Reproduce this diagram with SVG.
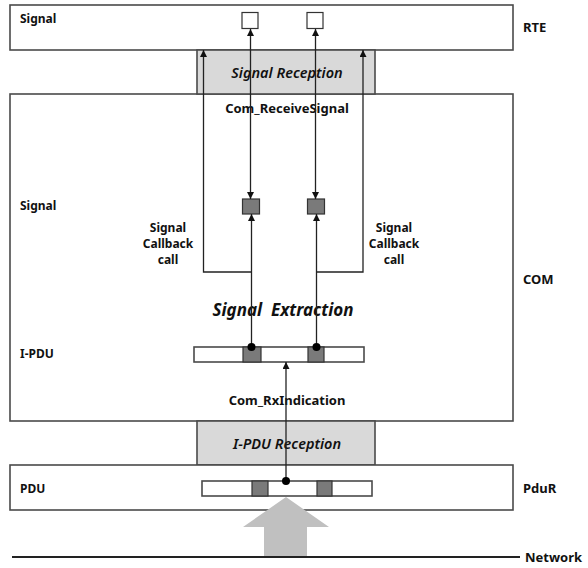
<svg xmlns="http://www.w3.org/2000/svg" width="588" height="568" viewBox="0 0 588 568">
<style>
.box{fill:#fff;stroke:#4a4a4a;stroke-width:1.6}
.gbox{fill:#d9d9d9;stroke:#4a4a4a;stroke-width:1.6}
.dark{fill:#7a7a7a;stroke:#333;stroke-width:1.2}
.wsq{fill:#fff;stroke:#333;stroke-width:1.2}
.ln{fill:none;stroke:#222;stroke-width:1.3}
.t{font-family:"Noto Sans","Open Sans","Liberation Sans",sans-serif;font-weight:bold;font-size:12px;fill:#111}
.lbl{font-family:"Noto Sans","Open Sans","Liberation Sans",sans-serif;font-weight:bold;font-size:13px;fill:#111}
.it{font-family:"Noto Sans","Open Sans","Liberation Sans",sans-serif;font-style:italic;font-weight:600;font-size:14.5px;fill:#111}
</style>
<defs>
<marker id="ah" viewBox="0 0 8 8" refX="8" refY="4" markerWidth="7" markerHeight="7" markerUnits="userSpaceOnUse" orient="auto-start-reverse">
<path d="M0,0 L8,4 L0,8 z" fill="#111"/>
</marker>
</defs>

<g id="rte">
<rect class="box" x="10" y="5" width="503" height="45"/>
<text class="t" x="20" y="23">Signal</text>
<rect class="wsq" x="242" y="12.5" width="16" height="16"/>
<rect class="wsq" x="307" y="12.5" width="16" height="16"/>
</g>
<text class="lbl" x="523" y="32">RTE</text>

<g id="com">
<rect class="box" x="10" y="94" width="503" height="327"/>
<text class="t" x="20" y="210">Signal</text>
<text class="t" x="20" y="358">I-PDU</text>
<rect class="dark" x="242.5" y="199" width="17" height="15"/>
<rect class="dark" x="307.5" y="199" width="17" height="15"/>
<text class="lbl" x="287" y="113" text-anchor="middle">Com_ReceiveSignal</text>
<text class="t" text-anchor="middle"><tspan x="168" y="232">Signal</tspan><tspan x="168" y="248">Callback</tspan><tspan x="168" y="264">call</tspan></text>
<text class="t" text-anchor="middle"><tspan x="394" y="232">Signal</tspan><tspan x="394" y="248">Callback</tspan><tspan x="394" y="264">call</tspan></text>
<text class="it" x="283" y="316" text-anchor="middle" style="font-size:17px;font-weight:bold;white-space:pre">Signal  Extraction</text>
<g id="ipdu-bar">
<rect class="box" x="194" y="347" width="170" height="15"/>
<rect class="dark" x="243" y="347" width="18" height="15"/>
<rect class="dark" x="308" y="347" width="16" height="15"/>
</g>
<text class="lbl" x="287" y="405" text-anchor="middle">Com_RxIndication</text>
</g>
<text class="lbl" x="523" y="284">COM</text>

<g id="signal-reception">
<rect class="gbox" x="197" y="50" width="178" height="44"/>
<text class="it" x="287" y="78" text-anchor="middle">Signal Reception</text>
</g>

<g id="ipdu-reception">
<rect class="gbox" x="197" y="421" width="178" height="44"/>
<text class="it" x="287" y="449" text-anchor="middle">I-PDU Reception</text>
</g>

<g id="pdur">
<rect class="box" x="10" y="465" width="503" height="45"/>
<text class="t" x="20" y="493">PDU</text>
<g id="pdu-bar">
<rect class="box" x="202" y="481" width="170" height="15"/>
<rect class="dark" x="252" y="481" width="16" height="15"/>
<rect class="dark" x="317" y="481" width="15" height="15"/>
</g>
</g>
<text class="lbl" x="523" y="493">PduR</text>

<g id="network">
<polygon points="286,497 329,527 307,527 307,556 264,556 264,527 243,527" fill="#c0c0c0"/>
<line x1="12" y1="557" x2="520" y2="557" stroke="#222" stroke-width="2"/>
<text class="lbl" x="525" y="562">Network</text>
</g>

<g id="connectors">
<line class="ln" x1="250.5" y1="199" x2="250.5" y2="29" marker-start="url(#ah)" marker-end="url(#ah)"/>
<line class="ln" x1="315.5" y1="199" x2="315.5" y2="29" marker-start="url(#ah)" marker-end="url(#ah)"/>
<line class="ln" x1="251.5" y1="347" x2="251.5" y2="214" marker-end="url(#ah)"/>
<line class="ln" x1="316.5" y1="347" x2="316.5" y2="214" marker-end="url(#ah)"/>
<path class="ln" d="M251.5,272 H203.5 V50" marker-end="url(#ah)"/>
<path class="ln" d="M316.5,272 H363 V50" marker-end="url(#ah)"/>
<line class="ln" x1="286" y1="481" x2="286" y2="362" marker-end="url(#ah)"/>
<circle cx="251.5" cy="347" r="4" fill="#000"/>
<circle cx="316.5" cy="347" r="4" fill="#000"/>
<circle cx="286" cy="481" r="4" fill="#000"/>
</g>
</svg>
